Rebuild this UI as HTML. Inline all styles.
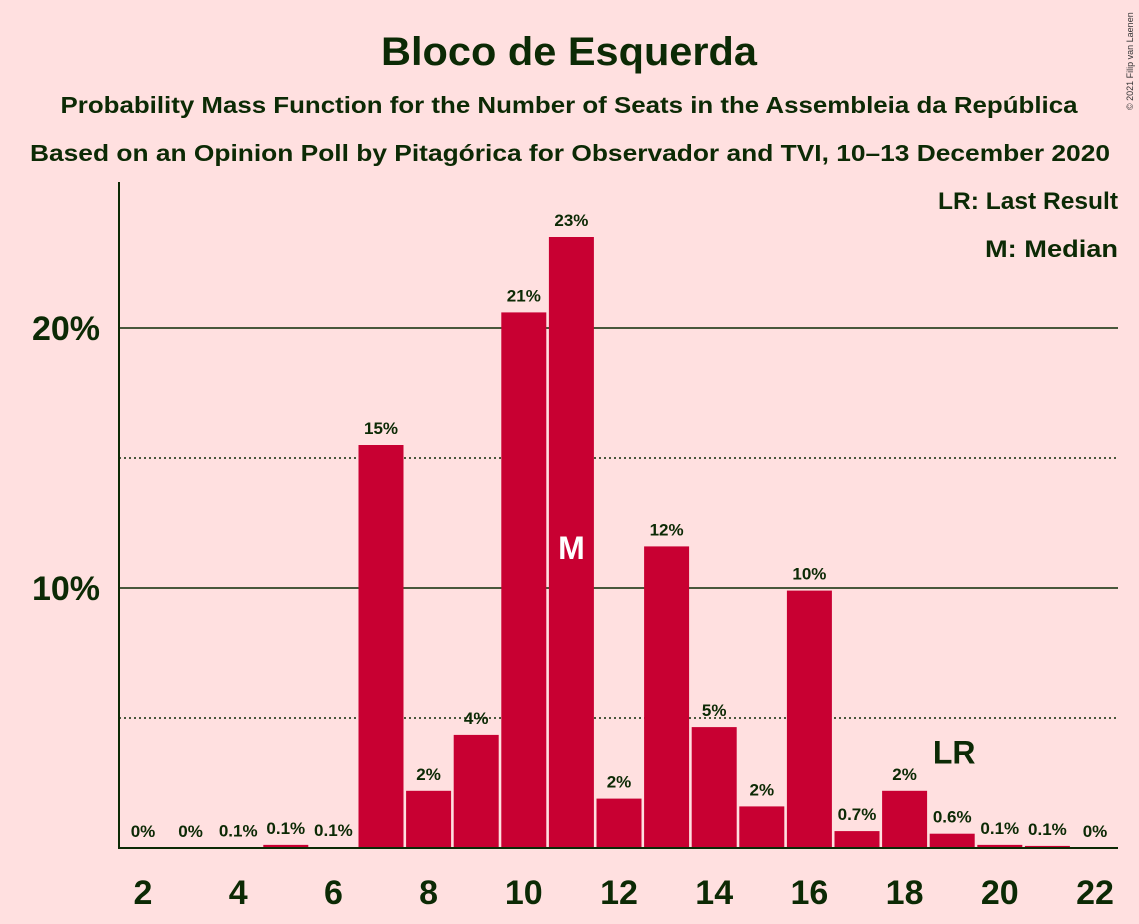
<!DOCTYPE html>
<html><head><meta charset="utf-8"><style>
body{margin:0;background:#ffe0e0;}
svg{display:block;font-family:"Liberation Sans",sans-serif;}
</style></head><body>
<svg id="chart" width="1139" height="924" viewBox="0 0 1139 924">
<rect width="1139" height="924" fill="#ffe0e0"/>
<text x="569" y="65" text-anchor="middle" font-size="40" font-weight="bold" fill="#0c2a05" textLength="376" lengthAdjust="spacingAndGlyphs">Bloco de Esquerda</text>
<text x="569" y="113" text-anchor="middle" font-size="23" font-weight="bold" fill="#0c2a05" textLength="1017" lengthAdjust="spacingAndGlyphs">Probability Mass Function for the Number of Seats in the Assembleia da República</text>
<text x="570" y="161" text-anchor="middle" font-size="23" font-weight="bold" fill="#0c2a05" textLength="1080" lengthAdjust="spacingAndGlyphs">Based on an Opinion Poll by Pitagórica for Observador and TVI, 10–13 December 2020</text>
<text x="1133" y="110" font-size="9" fill="#333" transform="rotate(-90 1133 110)">© 2021 Filip van Laenen</text>
<text x="1118" y="209" text-anchor="end" font-size="24" font-weight="bold" fill="#0c2a05" textLength="180" lengthAdjust="spacingAndGlyphs">LR: Last Result</text>
<text x="1118" y="257" text-anchor="end" font-size="24" font-weight="bold" fill="#0c2a05" textLength="133" lengthAdjust="spacingAndGlyphs">M: Median</text>
<g id="grid"></g><g id="bars"></g><g id="axes"></g>
</svg>
<script>
const seats=[2,3,4,5,6,7,8,9,10,11,12,13,14,15,16,17,18,19,20,21,22];
const probs=[0,0,0.02,0.12,0.03,15.5,2.2,4.35,20.6,23.5,1.9,11.6,4.65,1.6,9.9,0.65,2.2,0.55,0.12,0.08,0];
const labels=["0%","0%","0.1%","0.1%","0.1%","15%","2%","4%","21%","23%","2%","12%","5%","2%","10%","0.7%","2%","0.6%","0.1%","0.1%","0%"];
const yTicks=[10,20];
const yTickLabels=["10%","20%"];
const dottedTicks=[5,15];
const xTicks=[2,4,6,8,10,12,14,16,18,20,22];
const medianSeat=11, lastResult=19;
const NS="http://www.w3.org/2000/svg";
const xs=s=>143+(s-2)*47.6;
const ys=v=>848-v*26;
function mk(t,a,p){const e=document.createElementNS(NS,t);for(const k in a)e.setAttribute(k,a[k]);p.appendChild(e);return e;}
const grid=document.getElementById('grid'),bars=document.getElementById('bars'),axes=document.getElementById('axes');
dottedTicks.forEach(v=>{const l=mk('line',{x1:119,x2:1118,y1:ys(v),y2:ys(v),stroke:'#0c2a05','stroke-width':1.5,'stroke-dasharray':'2,3'},grid);

});
yTicks.forEach((v,i)=>{const l=mk('line',{x1:119,x2:1118,y1:ys(v),y2:ys(v),stroke:'#0c2a05','stroke-width':1.5},grid);


const t=mk('text',{x:100,y:ys(v)+12,'text-anchor':'end','font-size':34,'font-weight':'bold',fill:'#0c2a05'},axes);t.textContent=yTickLabels[i];

});
seats.forEach((s,i)=>{const v=probs[i];
if(v>0){const r=mk('rect',{x:xs(s)-22.5,y:ys(v),width:45,height:848-ys(v),fill:'#c80032'},bars);

}
const t=mk('text',{x:xs(s),y:ys(v)-11,'text-anchor':'middle','font-size':17,'font-weight':'bold',fill:'#0c2a05'},bars);t.textContent=labels[i];


if(s===medianSeat){const m=mk('text',{x:xs(s),y:ys(11.5)+10,'text-anchor':'middle','font-size':32,'font-weight':'bold',fill:'#fff'},bars);m.textContent='M';

}
if(s===lastResult){const m=mk('text',{x:xs(s)+2,y:ys(v)-70,'text-anchor':'middle','font-size':32,'font-weight':'bold',fill:'#0c2a05'},bars);m.textContent='LR';

}});
const ya=mk('line',{x1:119,x2:119,y1:182,y2:849,stroke:'#0c2a05','stroke-width':2},axes);


const xa=mk('line',{x1:118,x2:1118,y1:848,y2:848,stroke:'#0c2a05','stroke-width':2},axes);


xTicks.forEach(s=>{const t=mk('text',{x:xs(s),y:904,'text-anchor':'middle','font-size':34,'font-weight':'bold',fill:'#0c2a05'},axes);t.textContent=s;

});
</script>
</body></html>
